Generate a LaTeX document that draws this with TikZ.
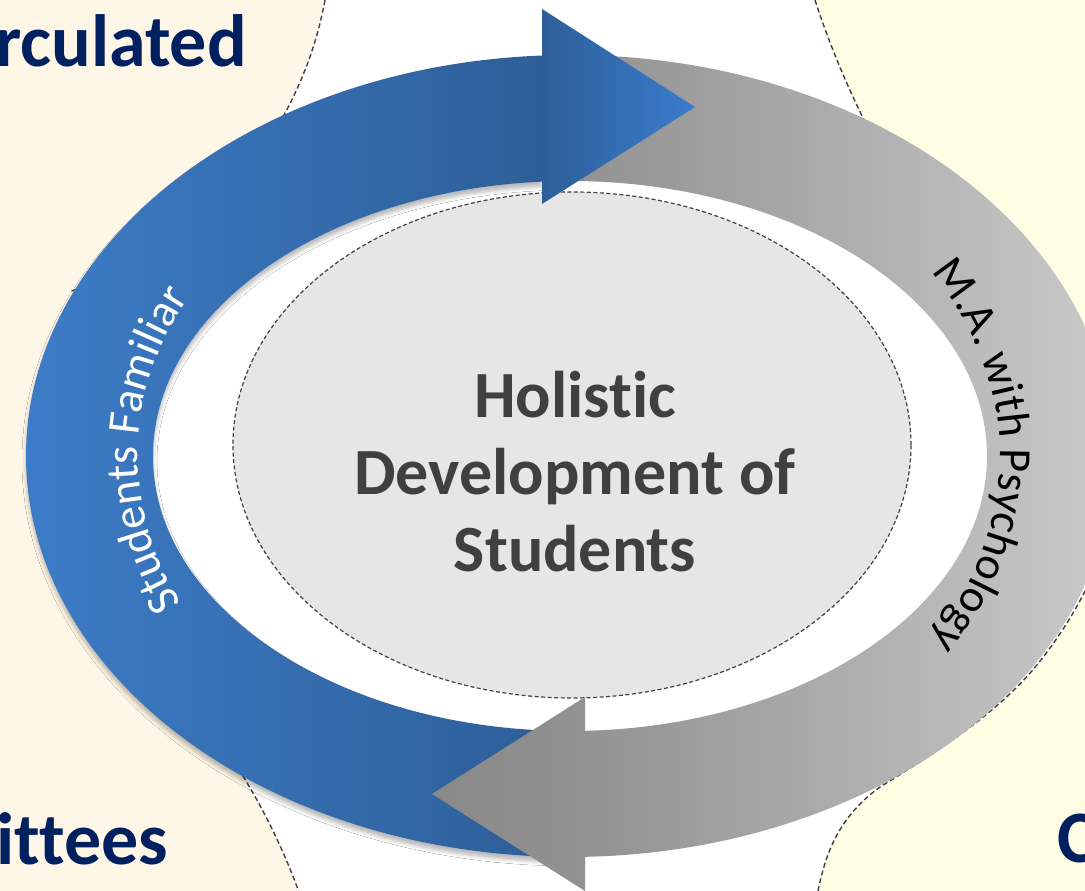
\documentclass[tikz,border=0pt]{standalone}
\usepackage{fontspec}
\setmainfont{Carlito}[Ligatures=NoCommon]
\usetikzlibrary{decorations.text,shadows.blur}
\definecolor{navy}{RGB}{0,32,96}
\definecolor{sand}{RGB}{254,247,231}
\definecolor{cream}{RGB}{255,253,227}
\definecolor{rimgray}{RGB}{64,64,64}
\definecolor{hubfill}{RGB}{230,230,230}
\definecolor{hubtext}{RGB}{64,64,64}
\definecolor{blueL}{RGB}{61,125,200}
\definecolor{blueD}{RGB}{45,94,152}
\definecolor{blueT}{RGB}{58,124,205}
\definecolor{grayD}{RGB}{142,142,142}
\definecolor{grayL}{RGB}{203,203,203}
\definecolor{grayH}{RGB}{136,136,136}
\definecolor{grayK}{RGB}{146,146,146}
\begin{document}
\begin{tikzpicture}[x=1pt,y=1pt,
	rim/.style={draw=rimgray,line width=1.4pt,dash pattern=on 5pt off 3pt},
	corner/.style={text=navy,inner sep=0pt,anchor=base west,font=\fontsize{74}{74}\selectfont\bfseries},
	soft/.style={blur shadow={shadow xshift=0pt,shadow yshift=-5pt,shadow blur radius=4pt,shadow opacity=28}}]
		\useasboundingbox (0,0) rectangle (1085,891);
		\clip (0,0) rectangle (1085,891);
		\fill[white] (0,0) rectangle (1085,891);
		\fill[sand] (0,891) -- (325,891) arc[start angle=-10.36,end angle=-72,radius=378]%
		-- (130,441) -- (107.6,272.1) arc[start angle=50,end angle=19.9,radius=645] -- (0,0) -- cycle;
		\draw[rim] (325,891) arc[start angle=-10.36,end angle=-72,radius=378];
		\draw[rim] (107.6,272.1) arc[start angle=50,end angle=19.9,radius=645];
		\fill[cream] (815,891) .. controls (825,860) and (840,820) .. (863,773)%
		.. controls (900,700) and (990,580) .. (1085,520) -- (1085,891) -- cycle;
		\draw[rim] (815,891) .. controls (825,860) and (840,820) .. (863,773)%
		.. controls (900,700) and (990,580) .. (1085,520);
		\fill[cream] (818,0) .. controls (826,40) and (840,75) .. (880,104)%
		.. controls (930,135) and (1000,178) .. (1040,230)%
		.. controls (1060,255) and (1075,280) .. (1085,300) -- (1085,0) -- cycle;
		\draw[rim] (818,0) .. controls (826,40) and (840,75) .. (880,104)%
		.. controls (930,135) and (1000,178) .. (1040,230)%
		.. controls (1060,255) and (1075,280) .. (1085,300);
		\node[corner] (circ) at (-5,824) {rculated};
		\node[corner] (comm) at (-4,26) {ittees};
		\node[corner] (cright) at (1057,28) {C};
		\draw[rim,line width=1.2pt,dash pattern=on 4pt off 2.5pt,fill=hubfill] (572,446) ellipse[x radius=339,y radius=253];
		\node[text=hubtext,align=center,inner sep=0pt,font=\fontsize{66}{77}\selectfont\bfseries] (hub) at (575,419)%
		{Holistic\\Development of\\Students};
		\shade[left color=blueL,right color=blueD,soft] ([shift={(570,435)}]92.95:544 and 401)%
		arc[start angle=92.95,end angle=267.68,x radius=544,y radius=401]%
		-- ([shift={(570,435)}]266.98:417 and 275)%
		arc[start angle=266.98,end angle=93.85,x radius=417,y radius=275] -- cycle;
		\shade[left color=grayD,right color=grayL] ([shift={(570,435)}]92.32:544 and 401)%
		arc[start angle=92.32,end angle=-88.42,x radius=544,y radius=401]%
		-- ([shift={(570,435)}]-87.94:417 and 275)%
		arc[start angle=-87.94,end angle=93.02,x radius=417,y radius=275] -- cycle;
		\shade[left color=blueD,right color=blueT] (542,882) -- (695,784) -- (542,687) -- cycle;
		\shade[left color=grayH,right color=grayK] (585,194) -- (432,97) -- (585,0) -- cycle;
		\path[decorate,decoration={text along path,text align=center,%
		text={|\fontsize{46}{46}\selectfont\color{white}|Students Familiar}}]%
		([shift={(570,435)}]232:432 and 338) arc[start angle=232,end angle=126,x radius=432,y radius=338];
		\path[decorate,decoration={text along path,text align=center,%
		text={|\fontsize{46}{46}\selectfont\color{black}|M.A. with Psychology}}]%
		([shift={(570,435)}]45:430 and 338) arc[start angle=45,end angle=-45,x radius=430,y radius=338];
\end{tikzpicture}
\end{document}
